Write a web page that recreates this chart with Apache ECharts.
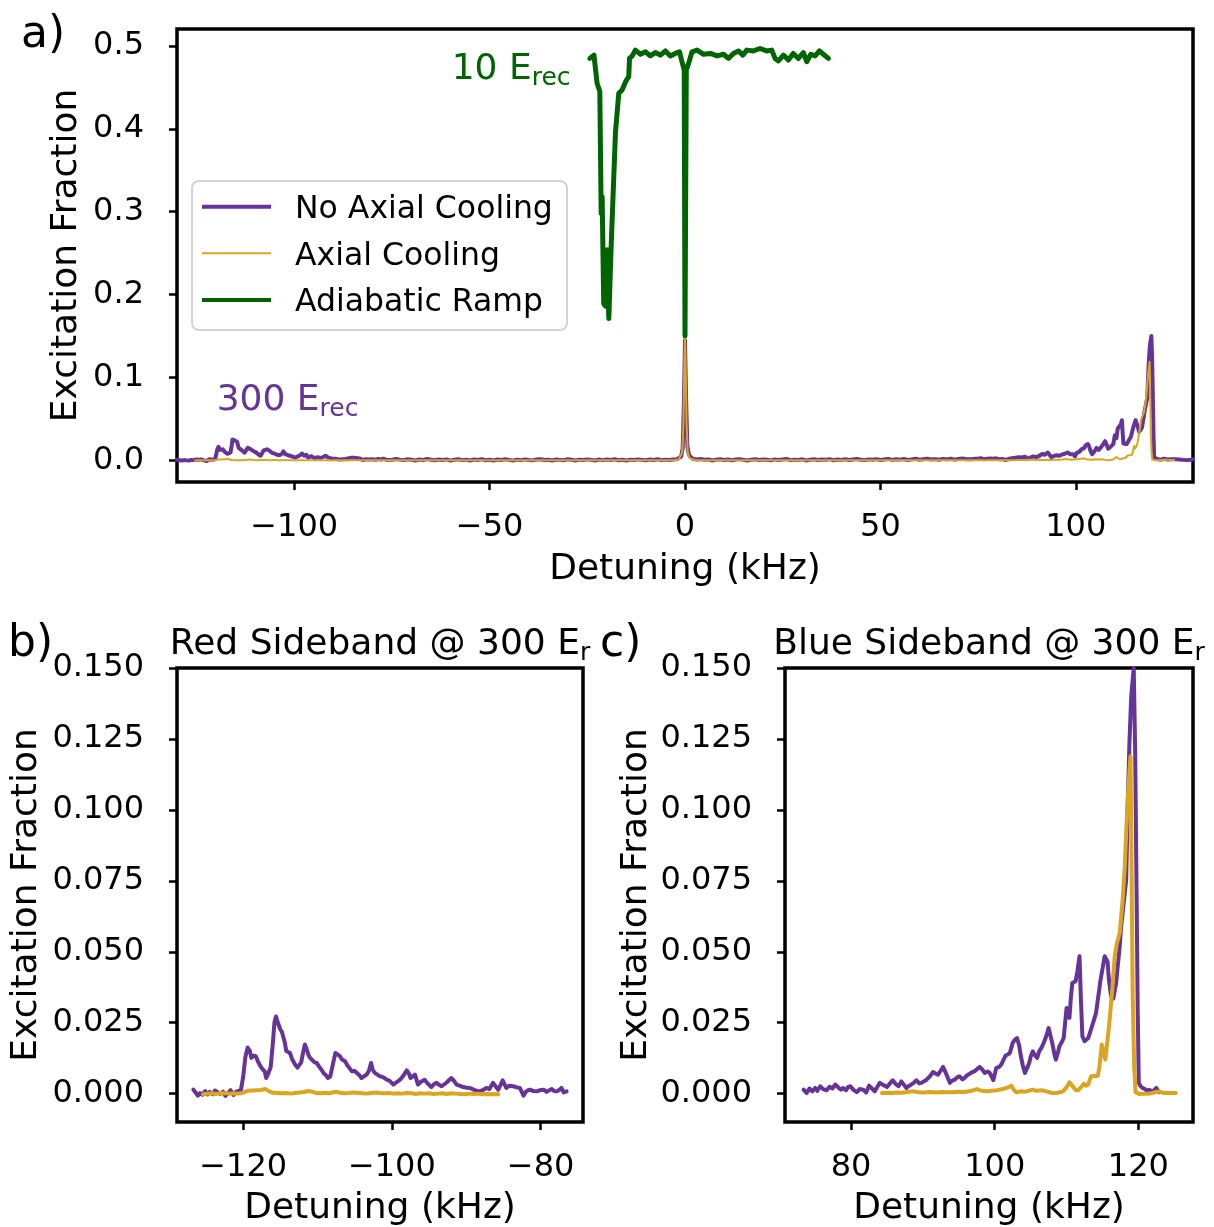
<!DOCTYPE html>
<html>
<head>
<meta charset="utf-8">
<script src="https://cdn.jsdelivr.net/npm/echarts@6/dist/echarts.min.js"></script>
<style>
  html, body { margin: 0; padding: 0; background: #fff; }
  #chart { width: 1214px; height: 1227px; }
</style>
</head>
<body>
<div id="chart"></div>
<script>
// ---------------------------------------------------------------------------
// Sideband spectroscopy: excitation fraction vs. detuning (kHz)
// ---------------------------------------------------------------------------

const seriesNames = ['No Axial Cooling', 'Axial Cooling', 'Adiabatic Ramp'];

// tick values
const overviewXTicks = [-100, -50, 0, 50, 100];
const overviewYTicks = [0, 0.1, 0.2, 0.3, 0.4, 0.5];
const redXTicks = [-120, -100, -80];
const blueXTicks = [80, 100, 120];
const zoomYTicks = [0, 0.025, 0.05, 0.075, 0.1, 0.125, 0.15];

// red sideband, 300 Erec, no axial cooling  [detuning kHz, fraction]
const redNoCooling = [
  [-126.7,0.0014],[-126.4,0.0004],[-126.1,-0.0007],[-125.8,0.0002],[-125.5,-0.0004],[-125.1,0.0009],[-124.8,-0.0003],
  [-124.5,0.0006],[-124.1,-0.0002],[-123.8,0.0011],[-123.4,0.0004],[-123.1,-0.0001],[-122.7,0.0007],[-122.4,-0.0008],
  [-122.0,0.0003],[-121.7,0.0012],[-121.3,-0.0005],[-121.0,0.0006],[-120.6,0.0010],[-120.3,0.0013],
  [-120.0,0.0060],[-119.7,0.0130],[-119.4,0.0162],[-119.1,0.0150],[-118.9,0.0126],[-118.6,0.0134],[-118.3,0.0132],
  [-118.0,0.0112],[-117.7,0.0098],[-117.4,0.0086],[-117.1,0.0078],[-116.9,0.0055],[-116.6,0.0072],[-116.3,0.0094],
  [-116.0,0.0180],[-115.8,0.0250],[-115.6,0.0272],[-115.4,0.0255],[-115.2,0.0240],[-115.0,0.0226],[-114.8,0.0218],
  [-114.6,0.0222],[-114.4,0.0180],[-114.2,0.0150],[-114.0,0.0156],[-113.7,0.0143],[-113.4,0.0120],[-113.0,0.0102],
  [-112.7,0.0092],[-112.5,0.0085],[-112.2,0.0110],[-111.9,0.0150],[-111.7,0.0173],[-111.5,0.0160],[-111.2,0.0135],
  [-111.0,0.0126],[-110.7,0.0118],[-110.4,0.0110],[-110.1,0.0108],[-109.8,0.0096],[-109.5,0.0085],[-109.2,0.0073],
  [-108.9,0.0066],[-108.6,0.0055],[-108.3,0.0060],[-108.1,0.0067],[-107.8,0.0120],[-107.6,0.0143],[-107.3,0.0138],
  [-107.0,0.0132],[-106.7,0.0120],[-106.3,0.0114],[-106.0,0.0100],[-105.7,0.0090],[-105.4,0.0079],[-105.0,0.0080],
  [-104.7,0.0073],[-104.4,0.0066],[-104.1,0.0055],[-103.7,0.0062],[-103.4,0.0067],[-103.1,0.0080],[-102.8,0.0108],
  [-102.6,0.0085],[-102.3,0.0073],[-102.0,0.0068],[-101.6,0.0061],[-101.2,0.0058],[-100.7,0.0049],[-100.3,0.0045],
  [-99.8,0.0032],[-99.4,0.0040],[-98.9,0.0049],[-98.5,0.0062],[-98.0,0.0082],[-97.7,0.0070],[-97.5,0.0055],
  [-97.2,0.0060],[-96.9,0.0067],[-96.7,0.0050],[-96.5,0.0032],[-96.1,0.0042],[-95.6,0.0049],[-95.2,0.0036],
  [-94.7,0.0023],[-94.3,0.0034],[-94.0,0.0038],[-93.6,0.0030],[-93.3,0.0026],[-92.9,0.0034],[-92.6,0.0040],
  [-92.3,0.0048],[-92.0,0.0055],[-91.6,0.0043],[-91.3,0.0032],[-90.8,0.0027],[-90.4,0.0023],[-89.9,0.0021],
  [-89.5,0.0020],[-89.0,0.0014],[-88.6,0.0010],[-88.2,0.0008],[-87.8,0.0012],[-87.3,0.0020],[-86.9,0.0016],
  [-86.4,0.0038],[-86.0,0.0024],[-85.7,0.0014],[-85.4,0.0030],[-85.1,0.0047],[-84.8,0.0030],[-84.6,0.0020],
  [-84.2,0.0028],[-83.7,0.0026],[-83.2,0.0022],[-82.8,0.0020],[-82.5,0.0004],[-82.3,-0.0007],[-82.0,0.0006],
  [-81.7,0.0012],[-81.4,0.0014],[-81.0,0.0009],[-80.5,0.0008],[-80.1,0.0012],[-79.6,0.0014],[-79.2,0.0006],
  [-78.9,0.0011],[-78.5,0.0016],[-78.2,0.0009],[-77.8,0.0008],[-77.5,0.0013],[-77.2,0.0020],[-76.9,0.0004],
  [-76.5,0.0008]
];

// red sideband, 300 Erec, with axial cooling
const redAxialCooling = [
  [-125.4,-0.0002],[-124.8,0.0000],[-124.2,0.0001],[-123.6,-0.0001],[-123.0,0.0002],[-122.4,0.0001],[-121.8,0.0000],
  [-121.2,0.0001],[-120.6,0.0000],[-120.0,0.0003],[-119.4,0.0010],[-118.8,0.0011],[-118.2,0.0012],[-117.6,0.0013],
  [-117.0,0.0016],[-116.5,0.0008],[-116.0,0.0003],[-115.4,0.0002],[-114.8,0.0001],[-114.2,0.0002],[-113.6,0.0000],
  [-113.0,0.0002],[-112.4,0.0004],[-111.8,0.0006],[-111.2,0.0009],[-110.7,0.0007],[-110.2,0.0002],[-109.6,0.0001],
  [-109.0,0.0003],[-108.5,0.0001],[-108.0,0.0004],[-107.5,0.0007],[-107.0,0.0003],[-106.4,0.0001],[-105.8,0.0002],
  [-105.2,0.0004],[-104.6,0.0003],[-104.0,0.0001],[-103.4,0.0000],[-102.8,0.0002],[-102.2,0.0004],[-101.6,0.0002],
  [-101.0,0.0001],[-100.4,0.0002],[-99.8,0.0000],[-99.2,0.0001],[-98.6,0.0000],[-98.0,0.0002],[-97.4,0.0001],
  [-96.8,-0.0001],[-96.2,0.0001],[-95.6,0.0000],[-95.0,0.0001],[-94.4,-0.0001],[-93.8,0.0000],[-93.2,0.0001],
  [-92.6,-0.0001],[-92.0,0.0001],[-91.4,0.0000],[-90.8,-0.0001],[-90.2,-0.0002],[-89.6,0.0000],[-89.0,-0.0001],
  [-88.4,0.0000],[-87.8,-0.0002],[-87.2,-0.0001],[-86.6,-0.0002],[-86.0,-0.0001],[-85.7,-0.0002]
];

// blue sideband, 300 Erec, no axial cooling
const blueNoCooling = [
  [73.4,0.0014],[73.8,0.0002],[74.2,0.0018],[74.6,0.0008],[75.0,0.0020],[75.3,0.0010],[75.7,0.0026],[76.1,0.0016],
  [76.6,0.0012],[77.0,0.0024],[77.4,0.0018],[77.8,0.0032],[78.2,0.0022],[78.6,0.0014],[78.9,0.0020],[79.3,0.0012],
  [79.6,0.0024],[79.9,0.0026],[80.3,0.0014],[80.8,0.0005],[81.2,0.0016],[81.7,0.0014],[82.1,0.0004],[82.5,0.0028],
  [82.9,0.0018],[83.3,0.0008],[83.7,0.0026],[84.0,0.0038],[84.5,0.0030],[85.0,0.0023],[85.4,0.0036],[85.8,0.0047],
  [86.2,0.0034],[86.6,0.0026],[87.0,0.0043],[87.4,0.0030],[87.7,0.0020],[88.1,0.0028],[88.4,0.0032],[88.8,0.0040],
  [89.1,0.0047],[89.5,0.0036],[89.8,0.0038],[90.2,0.0044],[90.5,0.0049],[91.0,0.0062],[91.4,0.0076],[91.8,0.0070],
  [92.1,0.0067],[92.5,0.0082],[92.8,0.0094],[93.2,0.0072],[93.75,0.0038],[94.1,0.0046],[94.4,0.0049],[94.8,0.0058],
  [95.1,0.0061],[95.5,0.0050],[95.8,0.0055],[96.2,0.0066],[96.5,0.0070],[96.9,0.0076],[97.2,0.0079],[97.6,0.0088],
  [97.9,0.0094],[98.3,0.0084],[98.6,0.0073],[99.0,0.0078],[99.3,0.0073],[99.6,0.0058],[99.8,0.0047],[100.2,0.0090],
  [100.6,0.0094],[100.9,0.0102],[101.2,0.0118],[101.5,0.0134],[101.8,0.0138],[102.1,0.0143],[102.5,0.0179],
  [102.8,0.0190],[103.1,0.0196],[103.4,0.0170],[103.6,0.0137],[103.9,0.0100],[104.2,0.0073],[104.5,0.0090],
  [104.8,0.0108],[105.0,0.0130],[105.3,0.0149],[105.6,0.0135],[105.9,0.0126],[106.2,0.0150],[106.5,0.0161],
  [106.9,0.0184],[107.2,0.0205],[107.5,0.0231],[107.8,0.0200],[108.0,0.0179],[108.3,0.0140],[108.5,0.0120],
  [108.8,0.0145],[109.0,0.0167],[109.3,0.0180],[109.6,0.0196],[109.8,0.0250],[110.0,0.0302],[110.2,0.0290],
  [110.4,0.0267],[110.6,0.0340],[110.8,0.0390],[111.0,0.0392],[111.25,0.0396],[111.5,0.0430],[111.8,0.0484],
  [112.0,0.0330],[112.2,0.0202],[112.5,0.0185],[112.7,0.0179],[113.0,0.0195],[113.4,0.0226],[113.7,0.0250],
  [114.1,0.0284],[114.4,0.0340],[114.7,0.0396],[115.0,0.0440],[115.3,0.0484],[115.5,0.0480],[115.7,0.0466],
  [115.9,0.0400],[116.2,0.0343],[116.5,0.0335],[116.7,0.0331],[116.9,0.0390],[117.1,0.0443],[117.4,0.0520],
  [117.6,0.0590],[117.9,0.0660],[118.1,0.0707],[118.3,0.0754],[118.5,0.1000],[118.75,0.1236],[119.0,0.1400],
  [119.35,0.1500],[119.55,0.1200],[119.7,0.0824],[119.9,0.0300],[120.05,0.0038],[120.3,0.0026],[120.6,0.0020],
  [120.9,0.0016],[121.2,0.0010],[121.5,0.0014],[121.9,0.0008],[122.2,0.0012],[122.5,0.0020],[122.7,0.0012],
  [122.9,0.0005]
];

// blue sideband, 300 Erec, with axial cooling
const blueAxialCooling = [
  [84.3,0.0002],[85.0,0.0003],[85.7,0.0002],[86.4,0.0004],[87.1,0.0003],[87.8,0.0006],[88.7,0.0008],[89.4,0.0005],
  [90.2,0.0004],[91.0,0.0006],[91.8,0.0004],[92.6,0.0006],[93.4,0.0005],[94.2,0.0005],[95.0,0.0007],[95.8,0.0006],
  [96.6,0.0009],[97.5,0.0016],[98.2,0.0010],[98.8,0.0008],[99.6,0.0010],[100.3,0.0012],[100.7,0.0014],[101.4,0.0018],
  [102.0,0.0024],[102.3,0.0028],[102.7,0.0012],[103.0,0.0005],[103.6,0.0008],[104.3,0.0007],[105.0,0.0012],
  [105.3,0.0014],[105.8,0.0010],[106.5,0.0012],[107.2,0.0008],[107.7,0.0004],[108.1,0.0002],[108.8,0.0003],
  [109.5,0.0008],[110.0,0.0022],[110.4,0.0040],[110.9,0.0024],[111.3,0.0012],[111.6,0.0012],[112.0,0.0022],
  [112.4,0.0035],[112.7,0.0028],[113.0,0.0032],[113.4,0.0061],[113.9,0.0062],[114.35,0.0063],[114.6,0.0100],
  [114.9,0.0173],[115.2,0.0140],[115.4,0.0120],[115.7,0.0190],[116.0,0.0261],[116.4,0.0380],[116.7,0.0484],
  [117.0,0.0530],[117.4,0.0566],[117.8,0.0680],[118.1,0.0801],[118.5,0.1036],[118.9,0.1189],[119.05,0.0800],
  [119.2,0.0355],[119.4,0.0100],[119.6,0.0005],[120.1,-0.0001],[120.8,0.0000],[121.5,0.0000],[122.2,0.0004],
  [122.9,0.0008],[123.4,0.0003],[123.85,0.0002],[124.5,0.0002],[125.2,0.0002]
];

// full scan pieces outside the two sideband windows (no axial cooling)
const scanNoCoolingLeft = [
  [-130.0,0.0005],[-129.5,0.0012],[-129.0,-0.0003],[-128.5,0.0008],[-128.0,0.0002],[-127.5,0.0010],[-127.0,-0.0004]
];
const scanNoCoolingCenter = [
  [-76.0,0.0012],[-75.0,0.0005],[-74.0,0.0016],[-73.0,0.0008],[-72.0,0.0002],[-71.0,0.0013],[-70.0,0.0006],
  [-69.0,-0.0002],[-68.0,0.0010],[-67.0,0.0004],[-66.0,0.0015],[-65.0,0.0007],[-64.0,0.0000],[-63.0,0.0009],
  [-62.0,0.0003],[-61.0,0.0011],[-60.0,-0.0004],[-59.0,0.0006],[-58.0,0.0012],[-57.0,0.0002],[-56.0,0.0008],
  [-55.0,-0.0003],[-54.0,0.0010],[-53.0,0.0004],[-52.0,0.0014],[-51.0,0.0001],[-50.0,0.0007],[-49.0,-0.0002],
  [-48.0,0.0009],[-47.0,0.0003],[-46.0,0.0012],[-45.0,0.0005],[-44.0,-0.0004],[-43.0,0.0008],[-42.0,0.0002],
  [-41.0,0.0011],[-40.0,0.0004],[-39.0,-0.0001],[-38.0,0.0009],[-37.0,0.0013],[-36.0,0.0003],[-35.0,0.0007],
  [-34.0,-0.0003],[-33.0,0.0010],[-32.0,0.0005],[-31.0,0.0001],[-30.0,0.0012],[-29.0,0.0006],[-28.0,-0.0002],
  [-27.0,0.0008],[-26.0,0.0003],[-25.0,0.0011],[-24.0,0.0005],[-23.0,-0.0003],[-22.0,0.0009],[-21.0,0.0002],
  [-20.0,0.0010],[-19.0,0.0004],[-18.0,0.0013],[-17.0,0.0001],[-16.0,0.0007],[-15.0,-0.0002],[-14.0,0.0008],
  [-13.0,0.0003],[-12.0,0.0011],[-11.0,0.0005],[-10.0,0.0000],[-9.0,0.0009],[-8.0,0.0004],[-7.0,0.0012],
  [-6.0,0.0002],[-5.0,0.0008],[-4.0,0.0003],[-3.0,0.0010],[-2.0,0.0014],[-1.5,0.0022],[-1.0,0.0045],
  [-0.6,0.0140],[-0.3,0.0650],[0.0,0.1450],[0.3,0.0700],[0.6,0.0180],[0.9,0.0090],[1.2,0.0050],[1.6,0.0030],
  [2.0,0.0018],[3.0,0.0009],[4.0,0.0015],[5.0,0.0006],[6.0,0.0011],[7.0,-0.0002],[8.0,0.0008],[9.0,0.0013],
  [10.0,0.0004],[11.0,0.0010],[12.0,0.0001],[13.0,0.0009],[14.0,0.0014],[15.0,0.0005],[16.0,-0.0003],[17.0,0.0008],
  [18.0,0.0012],[19.0,0.0003],[20.0,0.0010],[21.0,0.0006],[22.0,-0.0001],[23.0,0.0011],[24.0,0.0004],[25.0,0.0009],
  [26.0,0.0015],[27.0,0.0002],[28.0,0.0008],[29.0,0.0005],[30.0,0.0012],[31.0,-0.0002],[32.0,0.0007],[33.0,0.0013],
  [34.0,0.0004],[35.0,0.0010],[36.0,0.0006],[37.0,0.0014],[38.0,0.0001],[39.0,0.0009],[40.0,0.0005],[41.0,0.0012],
  [42.0,0.0003],[43.0,0.0010],[44.0,0.0016],[45.0,0.0006],[46.0,0.0002],[47.0,0.0011],[48.0,0.0007],[49.0,0.0014],
  [50.0,0.0004],[51.0,0.0010],[52.0,0.0017],[53.0,0.0005],[54.0,0.0012],[55.0,0.0008],[56.0,0.0015],[57.0,0.0003],
  [58.0,0.0011],[59.0,0.0018],[60.0,0.0007],[61.0,0.0013],[62.0,0.0020],[63.0,0.0009],[64.0,0.0014],[65.0,0.0006],
  [66.0,0.0017],[67.0,0.0011],[68.0,0.0019],[69.0,0.0008],[70.0,0.0015],[71.0,0.0022],[72.0,0.0012]
];
const scanNoCoolingRight = [
  [123.5,0.0010],[124.0,0.0004],[124.5,0.0012],[125.0,0.0006],[125.5,0.0014],[126.0,0.0003],[126.5,0.0009],
  [127.0,0.0016],[127.5,0.0005],[128.0,0.0011],[128.5,0.0002],[129.0,0.0010],[129.5,0.0006],[130.0,0.0012]
];

// full scan between the sidebands (axial cooling): carrier at 0 kHz
const scanAxialCoolingCenter = [
  [-85.0,-0.0001],[-80.0,0.0000],[-75.0,0.0001],[-70.0,0.0000],[-65.0,0.0001],[-60.0,0.0000],[-55.0,0.0001],
  [-50.0,0.0000],[-45.0,0.0001],[-40.0,0.0000],[-35.0,0.0001],[-30.0,0.0000],[-25.0,0.0001],[-20.0,0.0000],
  [-15.0,0.0001],[-10.0,0.0000],[-5.0,0.0001],[-2.5,0.0003],[-1.6,0.0010],[-1.1,0.0030],[-0.7,0.0100],
  [-0.4,0.0450],[-0.15,0.1200],[0.0,0.1485],[0.15,0.1200],[0.4,0.0450],[0.7,0.0100],[1.1,0.0030],[1.6,0.0010],
  [2.5,0.0003],[5.0,0.0001],[10.0,0.0000],[15.0,0.0001],[20.0,0.0000],[25.0,0.0001],[30.0,0.0000],[35.0,0.0001],
  [40.0,0.0000],[45.0,0.0001],[50.0,0.0000],[55.0,0.0001],[60.0,0.0000],[65.0,0.0001],[70.0,0.0000],[75.0,0.0001],
  [80.0,0.0000],[83.6,0.0001]
];

// carrier scan at 10 Erec after an adiabatic ramp
const adiabaticRamp = [
  [-24.35,0.485],[-23.3,0.489],[-22.9,0.489],[-22.5,0.455],[-21.8,0.445],[-21.45,0.298],[-21.2,0.318],
  [-20.8,0.189],[-20.35,0.186],[-19.9,0.254],[-19.5,0.171],[-18.9,0.258],[-17.8,0.395],[-16.95,0.443],
  [-16.1,0.447],[-15.2,0.457],[-14.4,0.463],[-14.2,0.485],[-13.5,0.488],[-12.7,0.495],[-11.4,0.490],
  [-10.1,0.493],[-8.9,0.488],[-7.6,0.492],[-6.3,0.489],[-5.0,0.494],[-3.75,0.488],[-2.5,0.491],[-1.4,0.493],
  [-0.77,0.481],[-0.2,0.471],[0.0,0.150],[0.33,0.471],[0.93,0.479],[1.8,0.493],[3.1,0.495],[4.75,0.490],
  [6.5,0.491],[8.2,0.488],[9.85,0.490],[11.1,0.485],[12.4,0.491],[13.7,0.494],[14.8,0.489],[15.8,0.495],
  [17.5,0.494],[19.2,0.497],[20.9,0.494],[22.2,0.495],[23.05,0.485],[23.9,0.482],[25.2,0.489],[26.45,0.483],
  [27.7,0.491],[29.0,0.485],[30.3,0.492],[31.15,0.481],[32.2,0.490],[33.3,0.488],[34.4,0.494],[35.4,0.490],
  [36.7,0.485]
];

// ---------------------------------------------------------------------------
const FONT = '"DejaVu Sans", "Liberation Sans", sans-serif';
const PURPLE = '#663399';
const GOLD = '#daa520';
const GREEN = '#006400';
const BASE_K = 0.26;   // em-box middle above the alphabetic baseline

const overviewNoCooling = [].concat(scanNoCoolingLeft, redNoCooling, scanNoCoolingCenter, blueNoCooling, scanNoCoolingRight);
const overviewAxialCooling = [].concat(redAxialCooling, scanAxialCoolingCenter, blueAxialCooling);

const measureCtx = document.createElement('canvas').getContext('2d');
function textWidth(str, size) {
  measureCtx.font = size + 'px "DejaVu Sans"';
  return measureCtx.measureText(str).width;
}
function signed(v) { return v < 0 ? '\u2212' + Math.abs(v) : String(v); }

function axis(gridIndex, min, max, ticks, fmt, margin, isY) {
  return {
    type: 'value', gridIndex, min, max, scale: true,
    axisLine: { show: false, onZero: false },
    splitLine: { show: false },
    axisTick: { show: true, customValues: ticks, length: 8, lineStyle: { color: '#000', width: 2.5 } },
    axisLabel: {
      show: true, customValues: ticks, formatter: fmt, margin, fontSize: 32, fontFamily: FONT, color: '#000',
      padding: isY ? [7, 0, 0, 0] : 0
    }
  };
}

// text placed by its alphabetic baseline
function text(str, x, baseline, size, color, align) {
  return {
    type: 'text', x, y: baseline - BASE_K * size, silent: true,
    style: { text: str, fontSize: size, fontFamily: FONT, fill: color, align: align || 'left', verticalAlign: 'middle' }
  };
}
// main text followed by a lowered subscript
function withSub(main, sub, x, baseline, size, subSize, drop, color, centered) {
  const wm = textWidth(main, size), ws = textWidth(sub, subSize);
  const x0 = centered ? x - (wm + ws) / 2 : x;
  return [text(main, x0, baseline, size, color), text(sub, x0 + wm, baseline + drop, subSize, color)];
}
function vtext(str, x, y, size) {
  return {
    type: 'text', x, y, rotation: Math.PI / 2, silent: true,
    style: { text: str, fontSize: size, fontFamily: FONT, fill: '#000', align: 'center', verticalAlign: 'middle' }
  };
}

function line(name, data, xi, color, width, z) {
  return {
    type: 'line', name, data, xAxisIndex: xi, yAxisIndex: xi,
    symbol: 'none', showSymbol: false, clip: true, z,
    lineStyle: { color, width, join: 'round', cap: 'round' },
    itemStyle: { color }, emphasis: { disabled: true }
  };
}

// legend drawn into the overview panel
const legendRows = [
  { name: seriesNames[0], color: PURPLE, width: 4, y: 206.7 },
  { name: seriesNames[1], color: GOLD, width: 2, y: 253.3 },
  { name: seriesNames[2], color: GREEN, width: 4, y: 300 }
];
const legendGraphic = [{
  type: 'rect', shape: { x: 192, y: 181, width: 375, height: 149, r: 7 }, z: 50,
  style: { fill: 'rgba(255,255,255,0.8)', stroke: '#d3d3d3', lineWidth: 2 }
}];
legendRows.forEach(r => {
  legendGraphic.push({ type: 'line', z: 51, shape: { x1: 202, y1: r.y, x2: 271, y2: r.y },
    style: { stroke: r.color, lineWidth: r.width } });
  legendGraphic.push(Object.assign(text(r.name, 295, r.y + 11.5, 31.5, '#000'), { z: 51 }));
});

const frame = { show: true, borderColor: '#000', borderWidth: 3.5, backgroundColor: '#fff', containLabel: false, outerBoundsMode: 'none' };

const option = {
  animation: false,
  backgroundColor: '#fff',
  grid: [
    Object.assign({ left: 177, top: 29, width: 1016, height: 453 }, frame),
    Object.assign({ left: 177, top: 668, width: 406, height: 454 }, frame),
    Object.assign({ left: 785, top: 668, width: 408, height: 454 }, frame)
  ],
  xAxis: [
    axis(0, -130, 130, overviewXTicks, signed, 30, false),
    axis(1, -128.9, -74.3, redXTicks, signed, 30, false),
    axis(2, 70.8, 127.6, blueXTicks, signed, 30, false)
  ],
  yAxis: [
    axis(0, -0.0262, 0.5205, overviewYTicks, v => v.toFixed(1), 33, true),
    axis(1, -0.01, 0.15, zoomYTicks, v => v.toFixed(3), 33, true),
    axis(2, -0.01, 0.15, zoomYTicks, v => v.toFixed(3), 33, true)
  ],
  series: [
    line(seriesNames[0], overviewNoCooling, 0, PURPLE, 4, 2),
    line(seriesNames[1], overviewAxialCooling, 0, GOLD, 2, 3),
    line(seriesNames[2], adiabaticRamp, 0, GREEN, 5, 4),
    line('red sideband, no cooling', redNoCooling, 1, PURPLE, 4, 2),
    line('red sideband, cooling', redAxialCooling, 1, GOLD, 4, 3),
    line('blue sideband, no cooling', blueNoCooling, 2, PURPLE, 4, 2),
    line('blue sideband, cooling', blueAxialCooling, 2, GOLD, 4, 3)
  ],
  graphic: [].concat(
    [text('a)', 21, 46.7, 44, '#000'), text('b)', 8, 656, 44, '#000'), text('c)', 600, 656, 44, '#000')],
    withSub('10 E', 'rec', 451.7, 79, 36, 25, 6, GREEN, false),
    withSub('300 E', 'rec', 216.7, 410, 36, 25, 6, PURPLE, false),
    withSub('Red Sideband @ 300 E', 'r', 380, 654, 36, 25, 6, '#000', true),
    withSub('Blue Sideband @ 300 E', 'r', 989, 654, 36, 25, 6, '#000', true),
    [text('Detuning (kHz)', 685, 579, 36, '#000', 'center'),
     text('Detuning (kHz)', 380, 1218, 36, '#000', 'center'),
     text('Detuning (kHz)', 989, 1218, 36, '#000', 'center'),
     vtext('Excitation Fraction', 67, 255.5, 36),
     vtext('Excitation Fraction', 27, 895, 36),
     vtext('Excitation Fraction', 637, 895, 36)],
    legendGraphic
  )
};

const chart = echarts.init(document.getElementById('chart'), null, { renderer: 'canvas' });
chart.setOption(option);
</script>
</body>
</html>
